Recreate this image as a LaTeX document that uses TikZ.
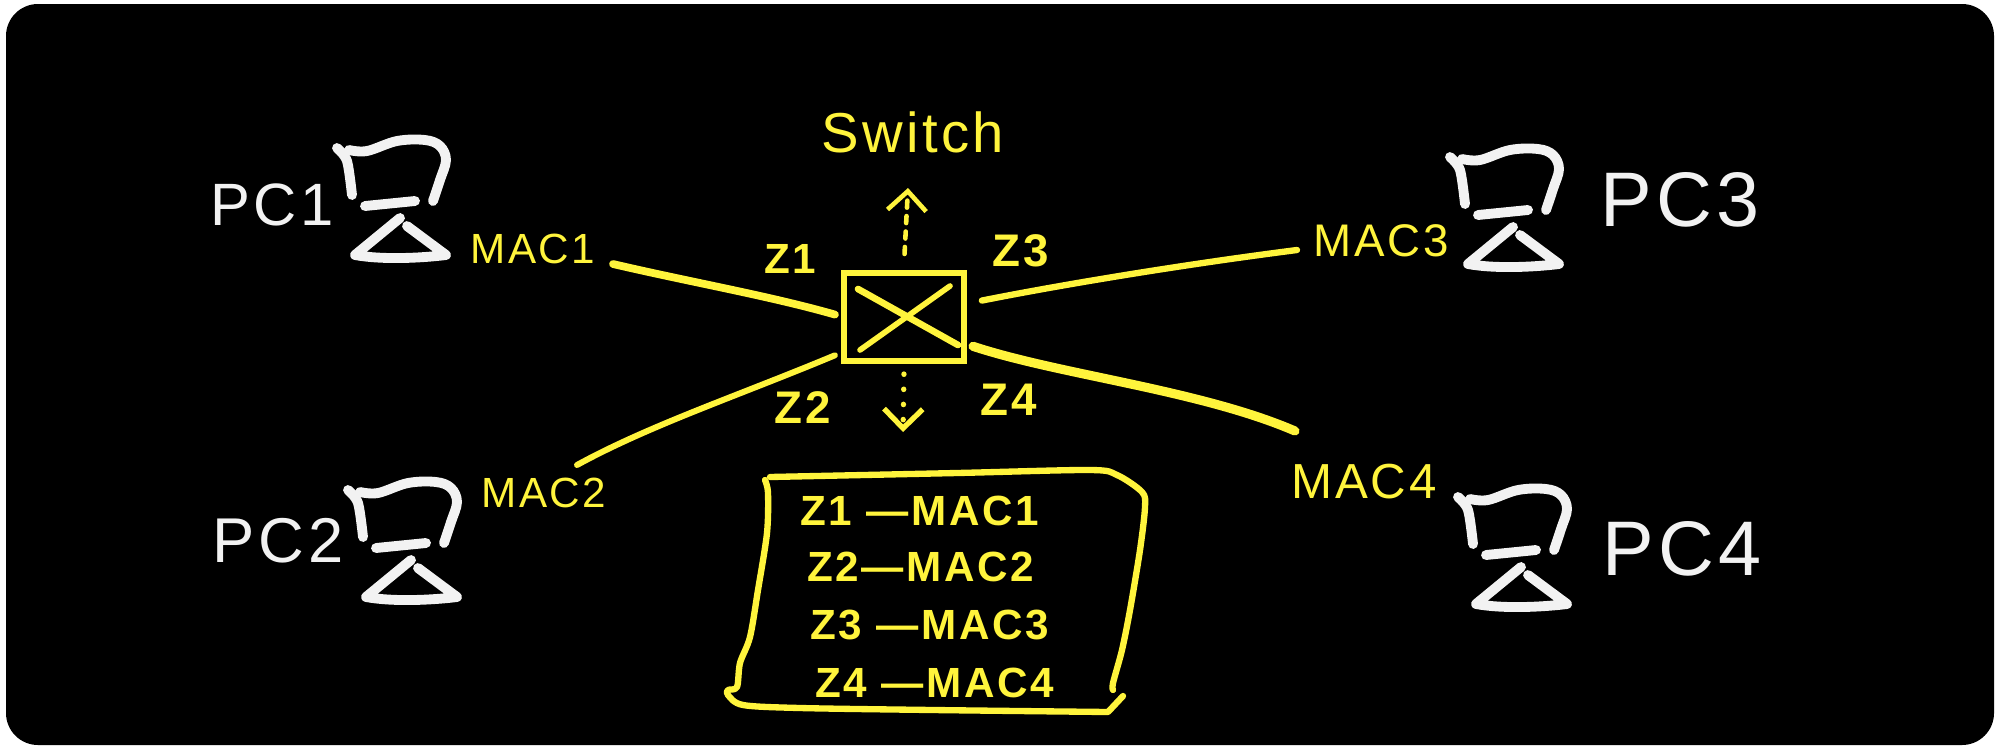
\documentclass[tikz,border=0pt]{standalone}
\usepackage{fontspec}
\setmainfont{Liberation Sans}
\newfontfamily\handfont[LetterSpace=6]{Liberation Sans}
\usetikzlibrary{arrows.meta}
\definecolor{chalkwhite}{RGB}{242,242,242}
\definecolor{chalkyellow}{RGB}{255,244,60}
\tikzset{
  pcicon/.pic={
    \draw[chalkwhite,line width=2.8pt,line cap=round,line join=round]
      plot[smooth,tension=0.5] coordinates {(0,0) (10,13) (15,47)};
    \draw[chalkwhite,line width=2.8pt,line cap=round,line join=round]
      plot[smooth,tension=0.6] coordinates {(12,2) (30,3) (60,-7) (88,-8) (103,-2) (109,12) (103,32) (96,53)};
    \draw[chalkwhite,line width=2.8pt,line cap=round] (28,58) -- (78,53);
    \draw[chalkwhite,line width=2.8pt,line cap=round,line join=round]
      (63,70) -- (18,107) .. controls (45,112) and (85,110) .. (109,107) -- (70,78);
  },
  pclabel/.style={text=chalkwhite,font=\handfont\fontsize{#1}{#1}\selectfont,inner sep=0pt},
  maclabel/.style={text=chalkyellow,font=\handfont\fontsize{#1}{#1}\selectfont,inner sep=0pt},
  portlabel/.style={text=chalkyellow,font=\handfont\bfseries\fontsize{#1}{#1}\selectfont,inner sep=0pt},
  wire/.style={chalkyellow,line cap=round,line width=#1},
  tablerow/.style={text=chalkyellow,font=\handfont\bfseries\fontsize{12}{12}\selectfont,inner sep=0pt,anchor=west}
}
\begin{document}
\begin{tikzpicture}[x=0.01cm,y=-0.01cm,>={Straight Barb[length=5.5pt,width=11pt]}]
  \useasboundingbox (0,0) rectangle (2000,751);
  \fill[white] (0,0) rectangle (2000,751);
  \fill[black,rounded corners=0.32cm] (6,4) rectangle (1994,745);

  % computers
  \pic (pcone) at (337,148) {pcicon};
  \pic (pctwo) at (348,490) {pcicon};
  \pic (pcthree) at (1450,157) {pcicon};
  \pic (pcfour) at (1458,497) {pcicon};
  \node[pclabel=17] (pconelabel) at (272,205) {PC1};
  \node[pclabel=18] (pctwolabel) at (278,541) {PC2};
  \node[pclabel=22] (pcthreelabel) at (1680,200) {PC3};
  \node[pclabel=22] (pcfourlabel) at (1682,549) {PC4};

  % mac addresses
  \node[maclabel=12] (macone) at (533,249) {MAC1};
  \node[maclabel=12] (mactwo) at (544,493) {MAC2};
  \node[maclabel=13] (macthree) at (1381,241) {MAC3};
  \node[maclabel=14] (macfour) at (1364,482) {MAC4};

  % switch
  \node[draw=chalkyellow,line width=1.7pt,minimum width=1.2cm,minimum height=0.88cm,inner sep=0pt,outer sep=0.09cm] (sw) at (904,317) {};
  \draw[chalkyellow,line width=1.9pt,line cap=round] (858,289) -- (958,345);
  \draw[chalkyellow,line width=1.6pt,line cap=round] (950,286) -- (860,350);
  \node[maclabel=16] (swlabel) at (913,132) {Switch};
  \node[portlabel=12] (zone) at (790,259) {Z1};
  \node[portlabel=13] (ztwo) at (803,408) {Z2};
  \node[portlabel=13] (zthree) at (1021,251) {Z3};
  \node[portlabel=13] (zfour) at (1009,400) {Z4};

  % wires
  \coordinate (endone) at (613,264);
  \coordinate (endtwo) at (577,465);
  \coordinate (endthree) at (1297,250);
  \coordinate (endfour) at (1295,431);
  \draw[wire=2.2pt] (endone) .. controls (690,282) and (770,296) .. (sw.178);
  \draw[wire=1.7pt] (endtwo) .. controls (650,425) and (740,395) .. (sw.209);
  \draw[wire=1.8pt,shorten <=0.09cm] (sw.12) .. controls (1060,285) and (1180,265) .. (endthree);
  \draw[wire=2.6pt] (sw.337) .. controls (1060,375) and (1200,390) .. (endfour);

  % dashed arrows
  \coordinate (swtip) at (908,188);
  \coordinate (tabletip) at (903,432);
  \draw[->,chalkyellow,line width=1.3pt,line cap=round,dash pattern=on 2pt off 2.4pt,shorten <=0.1cm] (sw.north) -- (swtip);
  \draw[->,chalkyellow,line width=1.5pt,line cap=round,dash pattern=on 0.1pt off 4.2pt,shorten <=0.04cm] (sw.south) -- (tabletip);

  % mapping table
  \draw[chalkyellow,line width=1.8pt,line cap=round]
    plot[smooth,tension=0.5] coordinates {(770,477) (957,473) (1090,470) (1117,475) (1142,492) (1145,507) (1140,550) (1130,610) (1122,650) (1113,683) (1113,690)};
  \draw[chalkyellow,line width=1.8pt,line cap=round,line join=round]
    plot[smooth,tension=0.5] coordinates {(765,480) (768,493) (767,533) (758,590) (750,637) (740,663) (737,687) (728,690) (728,695) (743,705) (800,708) (933,710) (1108,712)} -- (1123,696);
  \node[tablerow] (rowone) at (800,511) {Z1 —MAC1};
  \node[tablerow] (rowtwo) at (807,567) {Z2—MAC2};
  \node[tablerow] (rowthree) at (810,625) {Z3 —MAC3};
  \node[tablerow] (rowfour) at (815,683) {Z4 —MAC4};
\end{tikzpicture}
\end{document}
